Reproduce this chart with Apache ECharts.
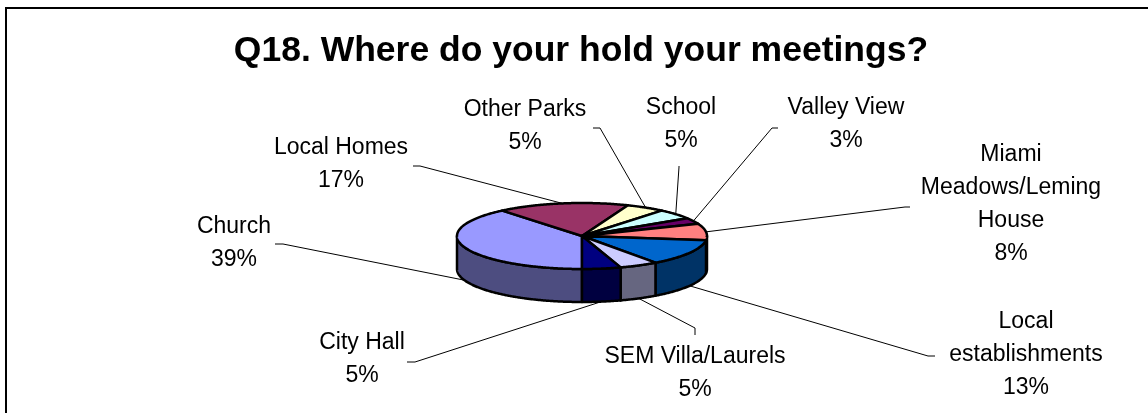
<!DOCTYPE html>
<html>
<head>
<meta charset="utf-8">
<script src="https://cdn.jsdelivr.net/npm/echarts@6/dist/echarts.min.js"></script>
<style>
  html, body { margin: 0; padding: 0; background: #fff; }
  #chart { width: 1148px; height: 413px; }
</style>
</head>
<body>
<div id="chart"></div>
<script>
// Meeting places and their share of answers (percent)
const categories = [
  'Church',
  'Local Homes',
  'Other Parks',
  'School',
  'Valley View',
  'Miami\nMeadows/Leming\nHouse',
  'Local\nestablishments',
  'SEM Villa/Laurels',
  'City Hall'
];
const shares = [39, 17, 5, 5, 3, 8, 13, 5, 5];
const titleText = 'Q18. Where do your hold your meetings?';

// Slice colours (top faces); the walls use a darker shade of each
const palette = ['#9999FF', '#993366', '#FFFFCC', '#CCFFFF', '#660066',
                 '#FF8080', '#0066CC', '#CCCCFF', '#000080'];

// Tilted pie geometry
const PIE = { cx: 582, cy: 236, rx: 125, ry: 33, depth: 33, startAngle: 180 };

// Label placement: centre x / first line centre y, and the label end of each leader line
const labelPos = [[234, 227], [341, 148], [525, 110], [681, 108], [846, 108],
                  [1011, 155], [1026, 322], [695, 357], [362, 343]];
const leaderEnds = [
  [[275, 244], [283, 244]],
  [[413, 166], [420, 166]],
  [[593, 128], [600, 128]],
  [[679, 166], [679, 167]],
  [[778, 128], [772, 128]],
  [[910, 207], [905, 207]],
  [[935, 356], [928, 356]],
  [[695, 335], [695, 328]],
  [[407, 362], [415, 362]]
];

const FONT = '"Liberation Sans", Arial, sans-serif';
const LABEL_SIZE = 23;
const LABEL_LH = 33;

const total = shares.reduce((a, b) => a + b, 0);
const startAngles = [];
(function () {
  let acc = PIE.startAngle;
  shares.forEach(v => { startAngles.push(acc); acc += v / total * 360; });
})();

function pt(angleDeg, dy) {
  const a = angleDeg * Math.PI / 180;
  return [PIE.cx + PIE.rx * Math.sin(a), PIE.cy - PIE.ry * Math.cos(a) + dy];
}
function arc(a0, a1, dy) {
  const n = Math.max(2, Math.ceil(Math.abs(a1 - a0) * 2));
  const pts = [];
  for (let k = 0; k <= n; k++) pts.push(pt(a0 + (a1 - a0) * k / n, dy));
  return pts;
}
function darken(hex, f) {
  const n = parseInt(hex.slice(1), 16);
  const r = Math.round(((n >> 16) & 255) * f);
  const g = Math.round(((n >> 8) & 255) * f);
  const b = Math.round((n & 255) * f);
  return 'rgb(' + r + ',' + g + ',' + b + ')';
}

function renderSlice(params, api) {
  const i = params.dataIndex;
  const a0 = startAngles[i];
  const a1 = a0 + api.value(0) / total * 360;
  const children = [];
  // outer wall, only where the rim faces the viewer (90..270 degrees, any turn)
  for (let m = 0; m < 3; m++) {
    const lo = Math.max(a0, 90 + 360 * m);
    const hi = Math.min(a1, 270 + 360 * m);
    if (hi > lo) {
      const top = arc(lo, hi, 0);
      const bottom = arc(hi, lo, PIE.depth);
      children.push({
        type: 'polygon',
        shape: { points: top.concat(bottom) },
        style: { fill: darken(palette[i], 0.5), stroke: '#000', lineWidth: 2.5, lineJoin: 'round' }
      });
    }
  }
  // top face
  children.push({
    type: 'polygon',
    shape: { points: [[PIE.cx, PIE.cy]].concat(arc(a0, a1, 0)) },
    style: { fill: palette[i], stroke: '#000', lineWidth: 2.5, lineJoin: 'round' }
  });
  return { type: 'group', children: children };
}

function renderLabel(params, api) {
  const i = params.dataIndex;
  const v = api.value(0);
  const mid = startAngles[i] + v / total * 180;
  const onFront = Math.cos(mid * Math.PI / 180) < 0;
  const anchor = pt(mid, onFront ? PIE.depth : 0);
  const ends = leaderEnds[i];
  const pct = Math.round(v / total * 100) + '%';
  return {
    type: 'group',
    children: [
      {
        type: 'polyline',
        shape: { points: [ends[0], ends[1], anchor] },
        style: { stroke: '#000', lineWidth: 1, fill: null }
      },
      {
        type: 'text',
        x: labelPos[i][0],
        y: labelPos[i][1] - LABEL_LH / 2,
        style: {
          text: categories[i] + '\n' + pct,
          fill: '#000',
          fontSize: LABEL_SIZE,
          fontFamily: FONT,
          align: 'center',
          verticalAlign: 'top',
          lineHeight: LABEL_LH
        }
      }
    ]
  };
}

const chart = echarts.init(document.getElementById('chart'), null, { renderer: 'canvas' });
chart.setOption({
  backgroundColor: '#fff',
  animation: false,
  graphic: [
    {
      type: 'rect',
      shape: { x: 6, y: 8, width: 1160, height: 420 },
      style: { fill: 'none', stroke: '#000', lineWidth: 2 },
      z: 0
    },
    {
      type: 'text',
      x: 581,
      y: 51,
      style: {
        text: titleText,
        fill: '#000',
        fontSize: 35.5,
        fontWeight: 'bold',
        fontFamily: FONT,
        align: 'center',
        verticalAlign: 'middle'
      },
      z: 10
    }
  ],
  series: [
    {
      type: 'custom',
      name: 'slices',
      coordinateSystem: 'none',
      data: shares.map((v, i) => ({ name: categories[i], value: [v] })),
      renderItem: renderSlice,
      z: 2,
      silent: true
    },
    {
      type: 'custom',
      name: 'labels',
      coordinateSystem: 'none',
      data: shares.map((v, i) => ({ name: categories[i], value: [v] })),
      renderItem: renderLabel,
      z: 3,
      silent: true
    }
  ]
});
</script>
</body>
</html>
